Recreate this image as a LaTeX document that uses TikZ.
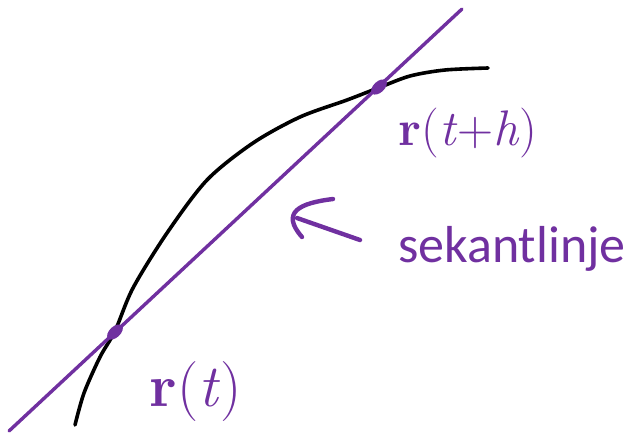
\documentclass[tikz,border=0pt]{standalone}
\usepackage{fontspec}
\newfontfamily\labelfont{Carlito}
\usetikzlibrary{shapes.geometric}
\definecolor{penpurple}{RGB}{112,48,160}

\begin{document}
\begin{tikzpicture}[
      x=1pt, y=-1pt,
      curve/.style={line width=3.6pt, line cap=round, black},
      secant/.style={line width=3.4pt, line cap=round, penpurple},
      dot/.style={ellipse, fill=penpurple, minimum width=19pt, minimum height=11pt, inner sep=0pt, rotate=43},
      hand/.style={line width=4.4pt, line cap=round, penpurple},
      pt/.style={text=penpurple, inner sep=0pt},
      word/.style={text=penpurple, inner sep=0pt, font=\labelfont\fontsize{52}{60}\selectfont}
    ]
    \useasboundingbox (0,0) rectangle (636,440);

    % kurven
    \draw[curve] plot[smooth, tension=0.5] coordinates {
      (75,425) (84,393) (100,357) (115,331) (133,288) (167,233) (207,180)
      (253,143) (300,117) (347,100) (378,88) (410,76) (445,70) (488,68)};

    % sekantlinjen
    \coordinate (lo) at (9,431);
    \coordinate (hi) at (462,9);
    \draw[secant] (lo) -- (hi);
    \node[dot] (p0) at (115,332) {};
    \node[dot] (p1) at (379,87) {};

    % punkter
    \node[pt, font=\fontsize{60}{66}\selectfont] (rt)  at (196,392) {\textbf{r}(\textit{t})};
    \node[pt, font=\fontsize{50}{58}\selectfont] (rth) at (468,133) {\textbf{r}(\textit{t}+\textit{h})};

    % pil og tekst
    \node[word, anchor=base west] (sek) at (398,262) {sekantlinje};
    \coordinate (tail) at (360,240);
    \coordinate (tip) at (297,218);
    \draw[hand] (tail) -- (tip);
    \draw[hand] (333,199) .. controls (300,203) and (280,212) .. (302,237);
  \end{tikzpicture}
\end{document}
